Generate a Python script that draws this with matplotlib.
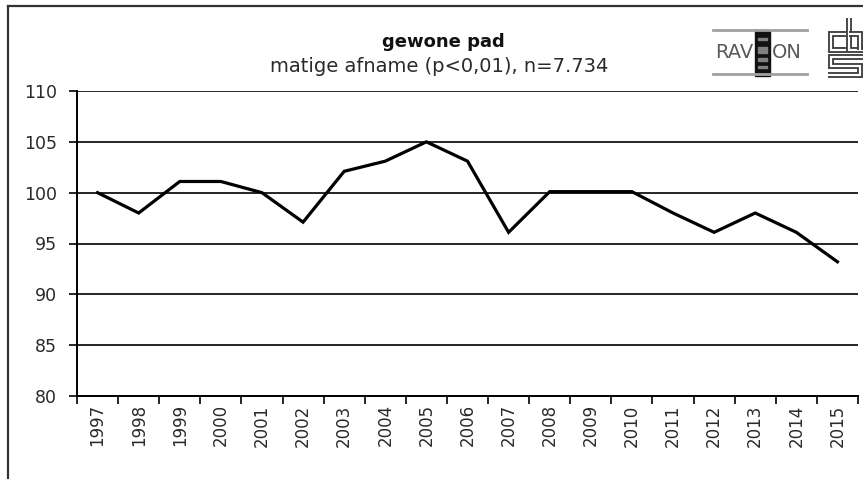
import matplotlib
matplotlib.use("Agg")
import matplotlib.pyplot as plt
from matplotlib.patches import Rectangle
from matplotlib.lines import Line2D
import numpy as np

years = [str(y) for y in range(1997, 2016)]
index_values = [100, 98, 101.1, 101.1, 100, 97.1, 102.1, 103.1, 105, 103.1,
                96.1, 100.1, 100.1, 100.1, 98, 96.1, 98, 96.1, 93.2]
y_ticks = [80, 85, 90, 95, 100, 105, 110]
title = "gewone pad"
subtitle = "matige afname (p<0,01), n=7.734"

W, H = 863, 479
fig = plt.figure(figsize=(W / 100, H / 100), dpi=100)
fig.patch.set_facecolor("white")


def px(xp, yp):
    return xp / W, 1 - yp / H


# outer frame (top and left edges visible)
fig.add_artist(Line2D([8 / W, 8 / W], [0, 1 - 6 / H], transform=fig.transFigure,
                      color="#333333", lw=1.6))
fig.add_artist(Line2D([8 / W, 1], [1 - 6 / H, 1 - 6 / H], transform=fig.transFigure,
                      color="#333333", lw=1.6))

ax = fig.add_axes([77 / W, 1 - 396 / H, (858 - 77) / W, (396 - 91) / H])
x = np.arange(len(years))
ax.plot(x, index_values, color="black", lw=2.3, solid_joinstyle="miter", zorder=3)

ax.set_xlim(-0.5, len(years) - 0.5)
ax.set_ylim(80, 110)
ax.set_yticks(y_ticks)
ax.set_yticklabels([str(v) for v in y_ticks], fontsize=12.5, color="#2a2a2a",
                   family="DejaVu Sans")
ax.grid(axis="y", color="black", lw=1.2)
ax.set_axisbelow(True)

ax.set_xticks(x)
ax.set_xticklabels(years, rotation=90, fontsize=12, color="#2a2a2a",
                   family="DejaVu Sans")
ax.set_xticks(np.arange(len(years) + 1) - 0.5, minor=True)
ax.tick_params(axis="x", which="major", length=0, pad=6)
ax.tick_params(axis="x", which="minor", length=5.5, width=1.2, direction="out")
ax.tick_params(axis="y", length=5.5, width=1.2, pad=9)

for s in ["top", "right"]:
    ax.spines[s].set_visible(False)
for s in ["left", "bottom"]:
    ax.spines[s].set_linewidth(1.4)
    ax.spines[s].set_color("black")

fig.text(*px(443, 42), title, ha="center", va="center", fontsize=13,
         fontweight="bold", color="#111111")
fig.text(*px(439, 66), subtitle, ha="center", va="center", fontsize=14,
         color="#2a2a2a")

# RAVON logo approximation
for yy in (30, 74):
    fig.add_artist(Line2D([713 / W, 807 / W], [1 - yy / H] * 2, transform=fig.transFigure,
                          color="#a0a0a0", lw=2.0))
fig.add_artist(Rectangle(px(755, 76), 15 / W, 46 / H, transform=fig.transFigure,
                         color="#111111"))
for yy, hh in ((38, 2), (47, 6), (58, 3), (66, 2)):
    fig.add_artist(Rectangle(px(758, yy + hh), 9 / W, hh / H, transform=fig.transFigure,
                             color="#808080"))
fig.text(*px(753, 53), "RAV", ha="right", va="center", fontsize=14,
         color="#5a5a5a", family=["Liberation Sans Narrow", "DejaVu Sans"])
fig.text(*px(772, 53), "ON", ha="left", va="center", fontsize=14,
         color="#5a5a5a", family=["Liberation Sans Narrow", "DejaVu Sans"])

# CBS logo approximation (double-line maze look)
cbs_paths = [
    [(846, 34), (831, 34), (831, 50), (846, 50)],
    [(849, 18), (849, 50), (866, 50)],
    [(849, 34), (860, 34), (860, 50)],
    [(866, 57), (831, 57), (831, 66), (860, 66), (860, 75), (828, 75)],
]
for pth in cbs_paths:
    xs = [p[0] / W for p in pth]
    ys = [1 - p[1] / H for p in pth]
    fig.add_artist(Line2D(xs, ys, transform=fig.transFigure, color="#3a3a3a", lw=4.2,
                          solid_joinstyle="miter", solid_capstyle="butt"))
    fig.add_artist(Line2D(xs, ys, transform=fig.transFigure, color="white", lw=1.6,
                          solid_joinstyle="miter", solid_capstyle="butt"))

fig.savefig("out.png", dpi=100, facecolor="white")
